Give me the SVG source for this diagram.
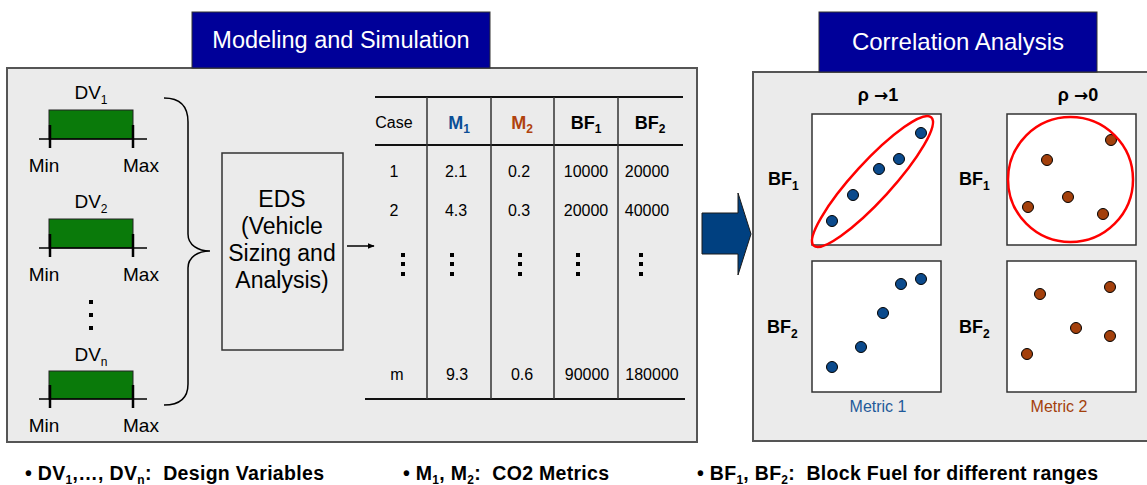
<svg xmlns="http://www.w3.org/2000/svg" width="1147" height="485" viewBox="0 0 1147 485">
<style>
text{font-family:"Liberation Sans",Arial,sans-serif;fill:#000}
.panel{fill:#ebebeb;stroke:#555;stroke-width:2}
.title{fill:#000099;stroke:#333;stroke-width:1}
.tt{fill:#fff;font-size:23.5px;text-anchor:middle}
.bar{fill:#0a7a0a;stroke:#222;stroke-width:1}
.ax{stroke:#000;stroke-width:1.5}
.tk{stroke:#000;stroke-width:2.5}
.lbl{font-size:19px;text-anchor:middle}
.eds{font-size:23px;text-anchor:middle}
.tl{stroke:#111;stroke-width:2}
.tv{stroke:#333;stroke-width:1.5}
.td{font-size:16px;text-anchor:middle}
.th{font-size:18px;font-weight:bold;text-anchor:middle}
.sub{font-size:12px}
.plot{fill:#fff;stroke:#333;stroke-width:1.5}
.b{fill:#0b4a8c;stroke:#000;stroke-width:1}
.r{fill:#a3400c;stroke:#000;stroke-width:1}
.ring{fill:none;stroke:#ff0000;stroke-width:2.5}
.pl{font-size:18px;font-weight:bold}
.arr{font-family:"DejaVu Sans",sans-serif;font-size:17px}
.bul{font-size:19.5px;font-weight:bold;white-space:pre}
</style>
<defs>
<marker id="ah" viewBox="0 0 10 10" refX="9" refY="5" markerWidth="7" markerHeight="7" orient="auto" markerUnits="userSpaceOnUse"><path d="M0,1 L10,5 L0,9 z" fill="#000"/></marker>
</defs>

<g id="panel-modeling">
<rect class="panel" x="7" y="68" width="690" height="374"/>
<rect class="title" x="192" y="12" width="298" height="56"/>
<text class="tt" x="341" y="48">Modeling and Simulation</text>
</g>

<g id="panel-correlation">
<rect class="panel" x="753" y="72" width="400" height="369"/>
<rect class="title" x="819" y="12" width="278" height="60"/>
<text class="tt" x="958" y="50" style="font-size:24px">Correlation Analysis</text>
</g>

<g id="dv1">
<text class="lbl" x="91" y="99" font-size="18">DV<tspan class="sub" dy="5">1</tspan></text>
<rect class="bar" x="49" y="110" width="84" height="29"/>
<line class="ax" x1="39" y1="139" x2="147" y2="139"/>
<line class="tk" x1="50" y1="125" x2="50" y2="148"/>
<line class="tk" x1="133" y1="125" x2="133" y2="148"/>
<text class="lbl" x="44" y="172">Min</text>
<text class="lbl" x="141" y="172">Max</text>
</g>
<g id="dv2">
<text class="lbl" x="91" y="208" font-size="18">DV<tspan class="sub" dy="5">2</tspan></text>
<rect class="bar" x="49" y="219" width="84" height="29"/>
<line class="ax" x1="39" y1="248" x2="147" y2="248"/>
<line class="tk" x1="50" y1="234" x2="50" y2="257"/>
<line class="tk" x1="133" y1="234" x2="133" y2="257"/>
<text class="lbl" x="44" y="281">Min</text>
<text class="lbl" x="141" y="281">Max</text>
</g>
<g id="dv-dots">
<rect x="89" y="300" width="4" height="4"/>
<rect x="89" y="313" width="4" height="4"/>
<rect x="89" y="326" width="4" height="4"/>
</g>
<g id="dvn">
<text class="lbl" x="91" y="361" font-size="18">DV<tspan class="sub" dy="5">n</tspan></text>
<rect class="bar" x="49" y="371" width="84" height="28"/>
<line class="ax" x1="39" y1="399" x2="147" y2="399"/>
<line class="tk" x1="50" y1="385" x2="50" y2="408"/>
<line class="tk" x1="133" y1="385" x2="133" y2="408"/>
<text class="lbl" x="44" y="432">Min</text>
<text class="lbl" x="141" y="432">Max</text>
</g>

<g id="eds">
<rect x="222" y="153" width="121" height="197" fill="none" stroke="#333" stroke-width="1.5"/>
<text class="eds" x="282" y="207">EDS</text>
<text class="eds" x="282" y="234">(Vehicle</text>
<text class="eds" x="282" y="261">Sizing and</text>
<text class="eds" x="282" y="288">Analysis)</text>
</g>

<g id="connectors">
<path d="M164,98 C180,98 188,106 188,122 L188,234 C188,245 198,251 210,251 C198,251 188,257 188,268 L188,384 C188,398 180,405 164,405" fill="none" stroke="#000" stroke-width="1.5"/>
<line x1="347" y1="246" x2="374" y2="246" stroke="#000" stroke-width="1.5" marker-end="url(#ah)"/>
<path d="M702,213 L738,213 L738,193 L751,234 L738,275 L738,254 L702,254 Z" fill="#004080" stroke="#1a1a1a" stroke-width="1"/>
</g>

<g id="table">
<line class="tl" x1="375" y1="97" x2="683" y2="97"/>
<line class="tl" x1="375" y1="145" x2="683" y2="145"/>
<line class="tl" x1="365" y1="399" x2="685" y2="399"/>
<line class="tv" x1="427" y1="97" x2="427" y2="399"/>
<line class="tv" x1="491" y1="97" x2="491" y2="399"/>
<line class="tv" x1="554" y1="97" x2="554" y2="399"/>
<line class="tv" x1="618" y1="97" x2="618" y2="399"/>
<text class="td" x="394" y="128">Case</text>
<text class="th" x="459" y="129" style="fill:#0b4f96">M<tspan class="sub" dy="4" style="fill:#0b4f96">1</tspan></text>
<text class="th" x="522" y="129" style="fill:#b0420d">M<tspan class="sub" dy="4" style="fill:#b0420d">2</tspan></text>
<text class="th" x="586" y="129">BF<tspan class="sub" dy="4">1</tspan></text>
<text class="th" x="650" y="129">BF<tspan class="sub" dy="4">2</tspan></text>
<text class="td" x="394" y="177">1</text>
<text class="td" x="456" y="177">2.1</text>
<text class="td" x="519" y="177">0.2</text>
<text class="td" x="586" y="177">10000</text>
<text class="td" x="647" y="177">20000</text>
<text class="td" x="394" y="216">2</text>
<text class="td" x="456" y="216">4.3</text>
<text class="td" x="519" y="216">0.3</text>
<text class="td" x="586" y="216">20000</text>
<text class="td" x="647" y="216">40000</text>
<g fill="#000">
<rect x="401" y="253" width="4" height="4"/><rect x="401" y="262" width="4" height="4"/><rect x="401" y="272" width="4" height="4"/>
<rect x="450" y="253" width="4" height="4"/><rect x="450" y="262" width="4" height="4"/><rect x="450" y="272" width="4" height="4"/>
<rect x="518" y="253" width="4" height="4"/><rect x="518" y="262" width="4" height="4"/><rect x="518" y="272" width="4" height="4"/>
<rect x="576" y="253" width="4" height="4"/><rect x="576" y="262" width="4" height="4"/><rect x="576" y="272" width="4" height="4"/>
<rect x="639" y="253" width="4" height="4"/><rect x="639" y="262" width="4" height="4"/><rect x="639" y="272" width="4" height="4"/>
</g>
<text class="td" x="397" y="380">m</text>
<text class="td" x="457" y="380">9.3</text>
<text class="td" x="522" y="380">0.6</text>
<text class="td" x="587" y="380">90000</text>
<text class="td" x="652" y="380">180000</text>
</g>

<g id="plot-labels">
<text class="pl" x="878" y="101" text-anchor="middle">ρ <tspan class="arr">→</tspan>1</text>
<text class="pl" x="1078" y="101" text-anchor="middle">ρ <tspan class="arr">→</tspan>0</text>
<text class="pl" x="768" y="185">BF<tspan class="sub" dy="5">1</tspan></text>
<text class="pl" x="959" y="185">BF<tspan class="sub" dy="5">1</tspan></text>
<text class="pl" x="767" y="333">BF<tspan class="sub" dy="5">2</tspan></text>
<text class="pl" x="959" y="333">BF<tspan class="sub" dy="5">2</tspan></text>
<text x="878" y="412" font-size="16" text-anchor="middle" style="fill:#1f5a9a">Metric 1</text>
<text x="1059" y="412" font-size="16" text-anchor="middle" style="fill:#a3400c">Metric 2</text>
</g>

<g id="plot-m1-bf1">
<rect class="plot" x="812" y="114" width="129" height="131"/>
<circle class="b" cx="832" cy="221" r="5.5"/>
<circle class="b" cx="853" cy="195" r="5.5"/>
<circle class="b" cx="879" cy="169" r="5.5"/>
<circle class="b" cx="899" cy="159" r="5.5"/>
<circle class="b" cx="921" cy="133" r="5.5"/>
<ellipse class="ring" cx="872.5" cy="181.5" rx="87" ry="19" transform="rotate(-47.5 872.5 181.5)"/>
</g>
<g id="plot-m2-bf1">
<rect class="plot" x="1007" y="114" width="129" height="131"/>
<circle class="r" cx="1111" cy="140" r="5.5"/>
<circle class="r" cx="1047" cy="160" r="5.5"/>
<circle class="r" cx="1068" cy="197" r="5.5"/>
<circle class="r" cx="1028" cy="207" r="5.5"/>
<circle class="r" cx="1103" cy="214" r="5.5"/>
<circle class="ring" cx="1070.5" cy="179.5" r="62.5"/>
</g>
<g id="plot-m1-bf2">
<rect class="plot" x="812" y="261" width="129" height="131"/>
<circle class="b" cx="832" cy="367" r="5.5"/>
<circle class="b" cx="861" cy="347" r="5.5"/>
<circle class="b" cx="883" cy="313" r="5.5"/>
<circle class="b" cx="901" cy="284" r="5.5"/>
<circle class="b" cx="921" cy="279" r="5.5"/>
</g>
<g id="plot-m2-bf2">
<rect class="plot" x="1007" y="261" width="129" height="131"/>
<circle class="r" cx="1040" cy="294" r="5.5"/>
<circle class="r" cx="1110" cy="287" r="5.5"/>
<circle class="r" cx="1076" cy="328" r="5.5"/>
<circle class="r" cx="1110" cy="336" r="5.5"/>
<circle class="r" cx="1027" cy="354" r="5.5"/>
</g>

<g id="legend">
<text class="bul" x="25" y="480" textLength="299" lengthAdjust="spacing">• DV<tspan class="sub" dy="4">1</tspan><tspan dy="-4">,…, DV</tspan><tspan class="sub" dy="4">n</tspan><tspan dy="-4">:  Design Variables</tspan></text>
<text class="bul" x="403" y="480" textLength="206" lengthAdjust="spacing">• M<tspan class="sub" dy="4">1</tspan><tspan dy="-4">, M</tspan><tspan class="sub" dy="4">2</tspan><tspan dy="-4">:  CO2 Metrics</tspan></text>
<text class="bul" x="697" y="480" textLength="401" lengthAdjust="spacing">• BF<tspan class="sub" dy="4">1</tspan><tspan dy="-4">, BF</tspan><tspan class="sub" dy="4">2</tspan><tspan dy="-4">:  Block Fuel for different ranges</tspan></text>
</g>
</svg>
